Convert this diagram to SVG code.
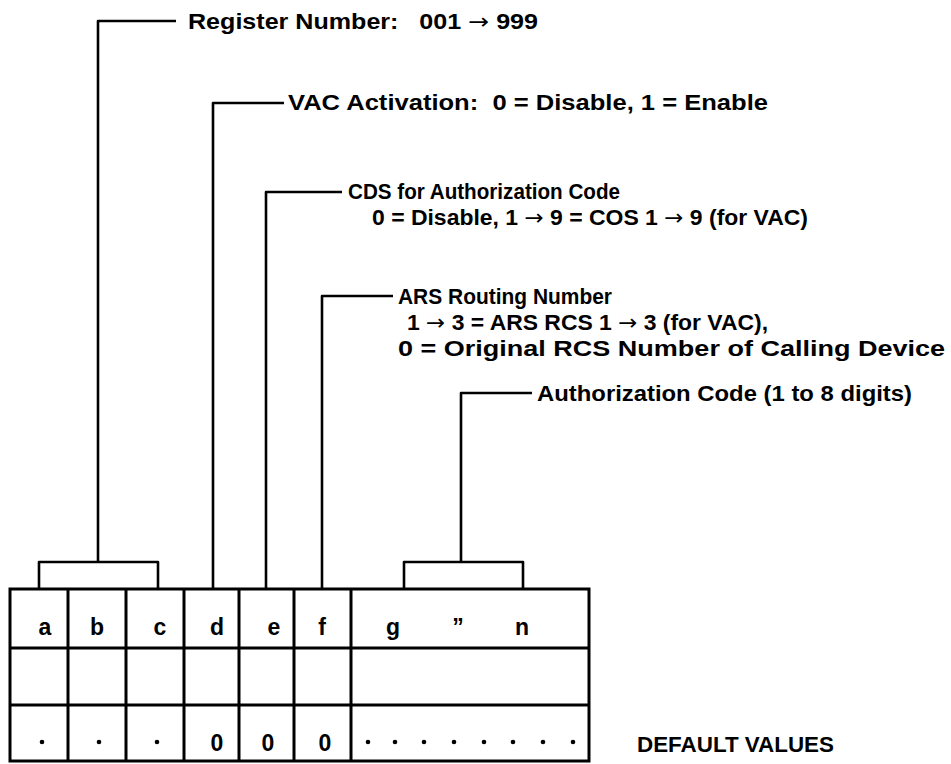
<svg xmlns="http://www.w3.org/2000/svg" width="951" height="764" viewBox="0 0 951 764">
<style>
.t{font-family:"Liberation Sans",Arial,sans-serif;font-weight:bold;font-size:22px;fill:#000}
.c{text-anchor:middle;font-size:23px}
.ar{font-family:"DejaVu Sans",sans-serif;font-weight:normal}
.ln{fill:none;stroke:#000;stroke-width:2.6;stroke-linejoin:round}
.tb{fill:none;stroke:#000;stroke-width:3}
</style>
<rect width="951" height="764" fill="#fff"/>
<g id="connectors">
<path class="ln" d="M98 562 V21 H176"/>
<path class="ln" d="M213 589 V103 H284"/>
<path class="ln" d="M266 589 V192 H342"/>
<path class="ln" d="M322 589 V296 H393"/>
<path class="ln" d="M461 562 V393 H532"/>
<path class="ln" d="M39 589 V562 H158 V589"/>
<path class="ln" d="M404 589 V562 H523 V589"/>
</g>
<g id="label-register">
<text class="t" x="188" y="29" xml:space="preserve" textLength="350" lengthAdjust="spacingAndGlyphs">Register Number:   001 <tspan class="ar">→</tspan> 999</text>
</g>
<g id="label-vac">
<text class="t" x="288" y="110" xml:space="preserve" textLength="480" lengthAdjust="spacingAndGlyphs">VAC Activation:  0 = Disable, 1 = Enable</text>
</g>
<g id="label-cds">
<text class="t" x="348" y="199" textLength="272" lengthAdjust="spacingAndGlyphs">CDS for Authorization Code</text>
<text class="t" x="372" y="225" textLength="436" lengthAdjust="spacingAndGlyphs">0 = Disable, 1 <tspan class="ar">→</tspan> 9 = COS 1 <tspan class="ar">→</tspan> 9 (for VAC)</text>
</g>
<g id="label-ars">
<text class="t" x="398" y="304" textLength="214" lengthAdjust="spacingAndGlyphs">ARS Routing Number</text>
<text class="t" x="407" y="330" textLength="361" lengthAdjust="spacingAndGlyphs">1 <tspan class="ar">→</tspan> 3 = ARS RCS 1 <tspan class="ar">→</tspan> 3 (for VAC),</text>
<text class="t" x="398" y="356" textLength="547" lengthAdjust="spacingAndGlyphs">0 = Original RCS Number of Calling Device</text>
</g>
<g id="label-auth">
<text class="t" x="537" y="401" textLength="375" lengthAdjust="spacingAndGlyphs">Authorization Code (1 to 8 digits)</text>
</g>
<g id="table">
<rect class="tb" x="10" y="589" width="579" height="172"/>
<path class="tb" d="M10 648 H589 M10 705 H589 M68 589 V761 M126 589 V761 M184 589 V761 M239 589 V761 M294 589 V761 M351 589 V761"/>
<g class="t c">
<text x="45" y="635">a</text>
<text x="97" y="635">b</text>
<text x="160" y="635">c</text>
<text x="217" y="635">d</text>
<text x="274" y="635">e</text>
<text x="322" y="635">f</text>
<text x="393" y="635">g</text>
<text x="458" y="635">”</text>
<text x="522" y="635">n</text>
<text x="217" y="751">0</text>
<text x="268" y="751">0</text>
<text x="325" y="751">0</text>
</g>
<g fill="#000">
<circle cx="42" cy="742" r="2.3"/>
<circle cx="99" cy="742" r="2.3"/>
<circle cx="157" cy="742" r="2.3"/>
<circle cx="368" cy="742" r="2.3"/>
<circle cx="395" cy="742" r="2.3"/>
<circle cx="424" cy="742" r="2.3"/>
<circle cx="454" cy="742" r="2.3"/>
<circle cx="484" cy="742" r="2.3"/>
<circle cx="513" cy="742" r="2.3"/>
<circle cx="543" cy="742" r="2.3"/>
<circle cx="573" cy="742" r="2.3"/>
</g>
</g>
<g id="label-default">
<text class="t" x="637" y="752" textLength="197" lengthAdjust="spacingAndGlyphs">DEFAULT VALUES</text>
</g>
</svg>
